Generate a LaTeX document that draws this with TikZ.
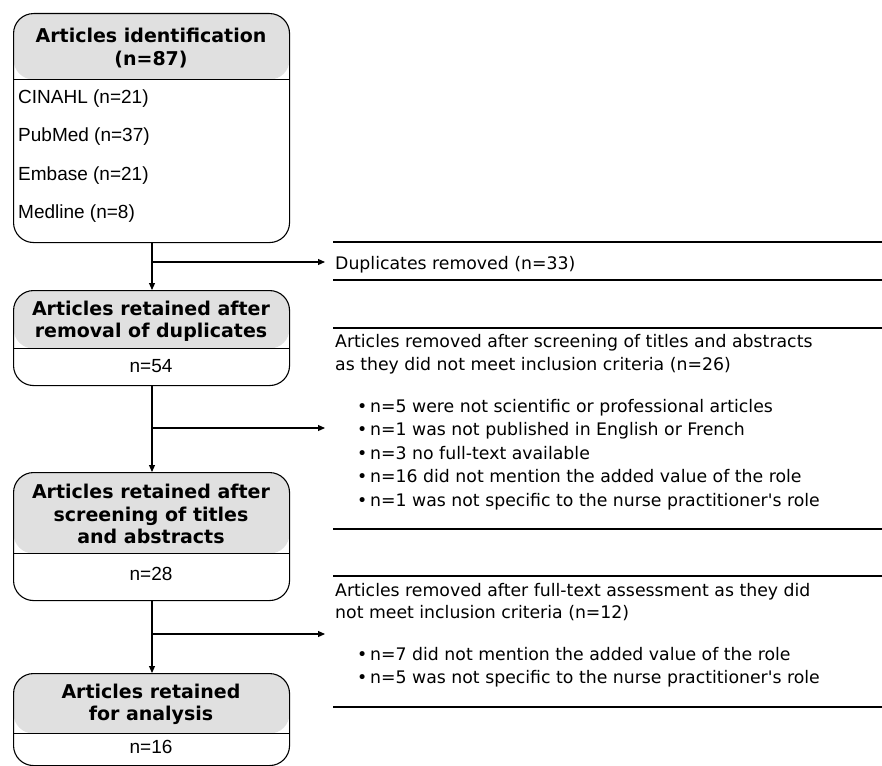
\documentclass[tikz,border=0pt]{standalone}
\usepackage{fontspec}
\setmainfont{Liberation Sans}
\newfontfamily\verd{DejaVu Sans}
\usetikzlibrary{arrows.meta}
\definecolor{hdr}{HTML}{E0E0E0}
\begin{document}
\begin{tikzpicture}[x=1pt,y=-1pt,
  box/.style={draw, line width=1.1pt, rounded corners=20pt, anchor=north west, inner sep=0pt, minimum width=276pt},
  ttl/.style={font=\verd\bfseries\fontsize{19}{22}\selectfont, anchor=base, inner sep=0pt},
  body/.style={font=\fontsize{19}{22}\selectfont, inner sep=0pt},
  rtxt/.style={font=\verd\fontsize{17.3}{23}\selectfont, anchor=base west, inner sep=0pt},
  rule/.style={line width=1.7pt},
  arr/.style={line width=1.1pt, -{Triangle[length=7pt,width=6pt]}},
  ln/.style={line width=1.1pt}]
\useasboundingbox (0,0) rectangle (882,765);
\begin{scope}
\clip (0,0) rectangle (882,765);
% boxes
\node[box, minimum height=229pt, path picture={\fill[hdr] (path picture bounding box.north west) rectangle ([yshift=-66pt]path picture bounding box.north east); \draw[line width=1.1pt] ([yshift=-66pt]path picture bounding box.north west) -- ([yshift=-66pt]path picture bounding box.north east);}] (b1) at (13,13) {};
\node[box, minimum height=95pt, path picture={\fill[hdr] (path picture bounding box.north west) rectangle ([yshift=-58pt]path picture bounding box.north east); \draw[line width=1.1pt] ([yshift=-58pt]path picture bounding box.north west) -- ([yshift=-58pt]path picture bounding box.north east);}] (b2) at (13,290) {};
\node[box, minimum height=128pt, path picture={\fill[hdr] (path picture bounding box.north west) rectangle ([yshift=-81pt]path picture bounding box.north east); \draw[line width=1.1pt] ([yshift=-81pt]path picture bounding box.north west) -- ([yshift=-81pt]path picture bounding box.north east);}] (b3) at (13,472) {};
\node[box, minimum height=92pt, path picture={\fill[hdr] (path picture bounding box.north west) rectangle ([yshift=-60pt]path picture bounding box.north east); \draw[line width=1.1pt] ([yshift=-60pt]path picture bounding box.north west) -- ([yshift=-60pt]path picture bounding box.north east);}] (b4) at (13,673) {};
\end{scope}
% box texts
\node[ttl] (t1a) at (151,43) {Articles identification};
\node[ttl] (t1b) at (151,66) {(n=87)};
\node[body, anchor=base west] (s1) at (18,103) {CINAHL (n=21)};
\node[body, anchor=base west] (s2) at (18,141) {PubMed (n=37)};
\node[body, anchor=base west] (s3) at (18,180) {Embase (n=21)};
\node[body, anchor=base west] (s4) at (18,218) {Medline (n=8)};
\node[ttl] (t2a) at (151,315) {Articles retained after};
\node[ttl] (t2b) at (151,337) {removal of duplicates};
\node[body, anchor=base] (n2) at (151,372) {n=54};
\node[ttl] (t3a) at (151,498) {Articles retained after};
\node[ttl] (t3b) at (151,521) {screening of titles};
\node[ttl] (t3c) at (151,543) {and abstracts};
\node[body, anchor=base] (n3) at (151,580) {n=28};
\node[ttl] (t4a) at (151,698) {Articles retained};
\node[ttl] (t4b) at (151,720) {for analysis};
\node[body, anchor=base] (n4) at (151,753) {n=16};
% right groups
\draw[rule] (333,242) -- (882,242);
\draw[rule] (333,280) -- (882,280);
\node[rtxt] (r1) at (335,269) {Duplicates removed (n=33)};
\draw[rule] (333,328) -- (882,328);
\draw[rule] (333,529) -- (882,529);
\node[rtxt] (r2a) at (335,347) {Articles removed after screening of titles and abstracts};
\node[rtxt] (r2b) at (335,370) {as they did not meet inclusion criteria (n=26)};
\node[rtxt] (r2c) at (357,412) {\makebox[13pt][l]{•}n=5 were not scientific or professional articles};
\node[rtxt] (r2d) at (357,435.5) {\makebox[13pt][l]{•}n=1 was not published in English or French};
\node[rtxt] (r2e) at (357,459) {\makebox[13pt][l]{•}n=3 no full-text available};
\node[rtxt] (r2f) at (357,482.5) {\makebox[13pt][l]{•}n=16 did not mention the added value of the role};
\node[rtxt] (r2g) at (357,506) {\makebox[13pt][l]{•}n=1 was not specific to the nurse practitioner's role};
\draw[rule] (333,576) -- (882,576);
\draw[rule] (333,707) -- (882,707);
\node[rtxt] (r3a) at (335,596) {Articles removed after full-text assessment as they did};
\node[rtxt] (r3b) at (335,618) {not meet inclusion criteria (n=12)};
\node[rtxt] (r3c) at (357,660) {\makebox[13pt][l]{•}n=7 did not mention the added value of the role};
\node[rtxt] (r3d) at (357,683) {\makebox[13pt][l]{•}n=5 was not specific to the nurse practitioner's role};
% connectors
\coordinate (j1) at (152,262);
\coordinate (j2) at (152,428);
\coordinate (j3) at (152,634);
\coordinate (e1) at (325,262);
\coordinate (e2) at (325,428);
\coordinate (e3) at (325,634);
\draw[arr] (b1.south -| j1) -- (b2.north -| j1);
\draw[arr] (b2.south -| j1) -- (b3.north -| j1);
\draw[arr] (b3.south -| j1) -- (b4.north -| j1);
\draw[arr] (j1) -- (e1);
\draw[arr] (j2) -- (e2);
\draw[arr] (j3) -- (e3);
\end{tikzpicture}
\end{document}
